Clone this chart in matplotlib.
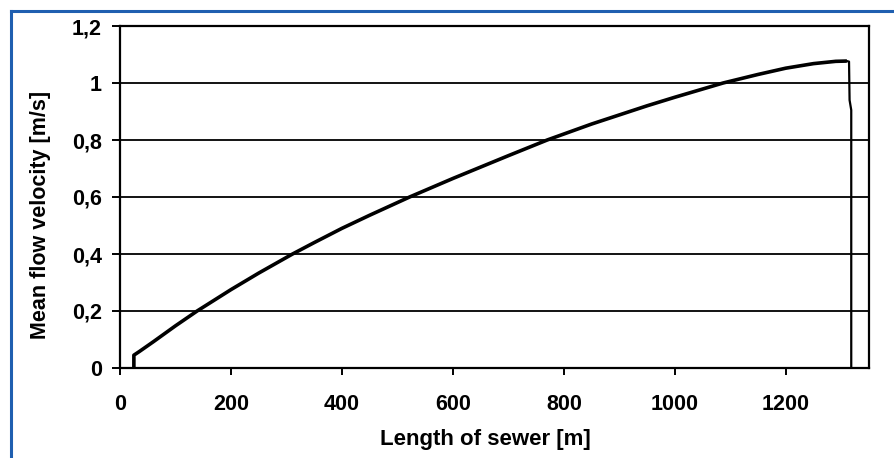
import matplotlib
matplotlib.use("Agg")
import matplotlib.pyplot as plt
from matplotlib.lines import Line2D

# Mean flow velocity along the sewer
length_m = [25, 25, 35, 60, 100, 139, 200, 250, 311, 350, 400, 450, 522, 600,
            700, 770, 850, 950, 1000, 1087, 1150, 1200, 1250, 1290, 1310]
velocity = [0.0, 0.045, 0.058, 0.092, 0.148, 0.2, 0.275, 0.333, 0.4, 0.44,
            0.49, 0.536, 0.6, 0.665, 0.745, 0.8, 0.856, 0.92, 0.95, 1.0,
            1.03, 1.052, 1.068, 1.076, 1.077]
# sudden drop at the outlet
drop_length_m = [1310, 1314, 1315, 1318, 1318]
drop_velocity = [1.077, 1.075, 0.94, 0.905, 0.0]

x_ticks = [0, 200, 400, 600, 800, 1000, 1200]
y_ticks = [0, 0.2, 0.4, 0.6, 0.8, 1.0, 1.2]
y_tick_labels = ["0", "0,2", "0,4", "0,6", "0,8", "1", "1,2"]

plt.rcParams["font.family"] = ["Liberation Sans", "DejaVu Sans"]
plt.rcParams["font.weight"] = "bold"

fig = plt.figure(figsize=(8.95, 4.58), dpi=100)
ax = fig.add_axes([120 / 895, 1 - 368 / 458, 749 / 895, 342 / 458])

ax.plot(length_m, velocity, color="black", lw=2.6, solid_capstyle="butt")
ax.plot(drop_length_m, drop_velocity, color="black", lw=1.6)

ax.set_xlim(0, 1350)
ax.set_ylim(0, 1.2)
ax.set_xticks(x_ticks)
ax.set_yticks(y_ticks)
ax.set_yticklabels(y_tick_labels)
ax.yaxis.grid(True, color="black", lw=1.3)
ax.set_axisbelow(True)

for s in ax.spines.values():
    s.set_linewidth(1.6)
    s.set_color("black")

ax.tick_params(axis="x", direction="out", length=5, width=1.4, pad=14, labelsize=15.5)
ax.tick_params(axis="y", direction="out", length=6, width=1.4, pad=7, labelsize=15.5)
for lab in ax.get_xticklabels() + ax.get_yticklabels():
    lab.set_fontweight("bold")

fig.text(485 / 895, 1 - 440 / 458, "Length of sewer [m]", ha="center", va="center",
         fontsize=16, fontweight="bold")
fig.text(41 / 895, 1 - 215 / 458, "Mean flow velocity [m/s]", ha="center", va="center",
         rotation=90, fontsize=15.5, fontweight="bold")

# blue frame on the top and left edges
blue = "#1f5fb0"
fig.add_artist(Line2D([11 / 895, 11 / 895], [0, 1 - 11 / 458], color=blue, lw=2.2,
                      transform=fig.transFigure))
fig.add_artist(Line2D([11 / 895, 1], [1 - 11 / 458, 1 - 11 / 458], color=blue, lw=2.2,
                      transform=fig.transFigure))

fig.savefig("out.png", dpi=100)
